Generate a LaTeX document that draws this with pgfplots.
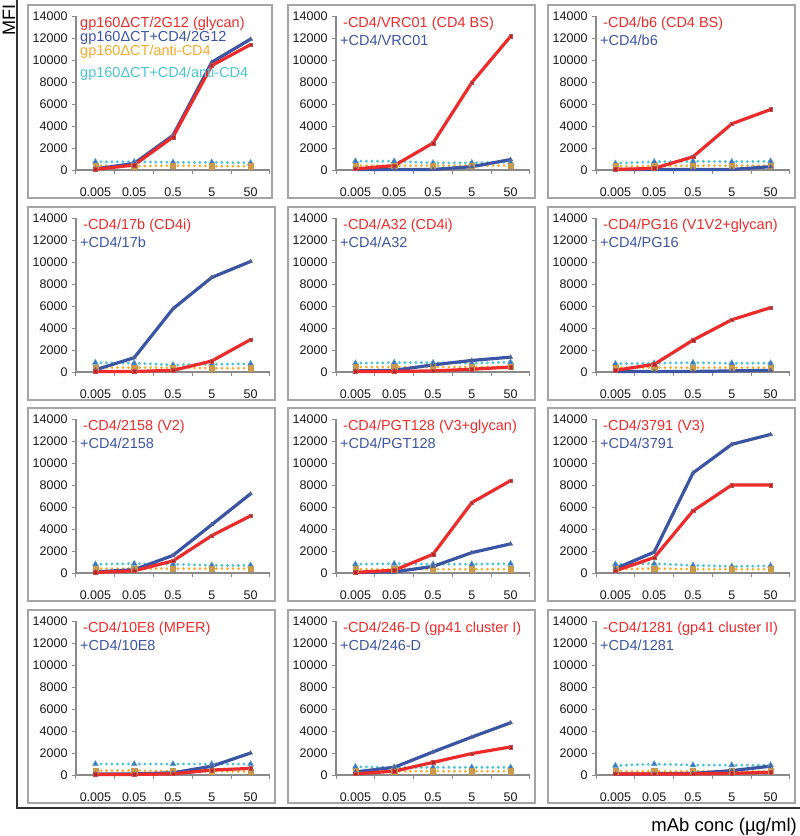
\documentclass[border=0pt]{standalone}
\usepackage{pgfplots}
\pgfplotsset{compat=1.18}
\usepackage{fontspec}
\setmainfont{Liberation Sans}
\definecolor{cred}{HTML}{EE2B2B}
\definecolor{cblue}{HTML}{3C54A4}
\definecolor{corange}{HTML}{F7AA2B}
\definecolor{ccyan}{HTML}{4CC4D2}
\definecolor{axgray}{HTML}{8A8A8A}
\definecolor{boxgray}{HTML}{A5A5A5}
\tikzset{ttl/.style={anchor=west, inner sep=0pt, font=\fontsize{14.5}{16}\selectfont}}
\pgfplotsset{
  panel/.style={
    scale only axis, width=194pt, height=154pt,
    xmin=-0.5, xmax=4.5, ymin=0, ymax=14000,
    axis x line*=bottom, axis y line*=left,
    axis line style={draw=axgray, line width=1.1pt},
    xtick={-0.5,0.5,1.5,2.5,3.5,4.5}, xticklabels={},
    extra x ticks={0,1,2,3,4},
    extra x tick labels={0.005,0.05,0.5,5,50},
    extra x tick style={major tick length=0pt, xticklabel style={yshift=-14pt}},
    ytick={0,2000,...,14000},
    tick align=outside, major tick length=4pt,
    tick style={axgray, line width=1pt},
    scaled y ticks=false,
    /pgf/number format/.cd, fixed, 1000 sep={}, assume math mode=true, /pgfplots/.cd,
    ticklabel style={font=\fontsize{12.5}{14}\selectfont, text=black!90},
    yticklabel style={xshift=-1pt},
    clip=false,
  },
  redl/.style={cred, line width=3.2pt, mark=square*, mark size=1.8pt, mark options={fill=cred!80!black, draw=cred!60!gray, line width=0.5pt}},
  bluel/.style={cblue, line width=3.2pt, mark=triangle*, mark size=2.3pt, mark options={fill=cblue!80!gray, draw=cblue!60!gray, line width=0.5pt}},
  orgl/.style={corange, line width=3pt, line cap=round, dash pattern=on 0pt off 5.5pt, mark=square*, mark size=2.6pt, mark options={solid, fill=corange!65!gray, draw=corange!55!gray, line width=0.5pt}},
  cyl/.style={ccyan, line width=3.2pt, line cap=round, dash pattern=on 0pt off 5.5pt, mark=triangle*, mark size=3.4pt, mark options={solid, fill=ccyan!55!blue!75!gray, draw=ccyan!60!gray, line width=0.5pt}},
}
% #1 X, #2 Y, #3 red title, #4 blue title, #5 red, #6 blue, #7 orange, #8 cyan
\newcommand{\panel}[8]{%
  \draw[boxgray, line width=1.2pt] (#1pt-48pt,-#2pt+165pt) rectangle (#1pt+199pt,-#2pt-28pt);
  \begin{axis}[panel, at={(#1pt,-#2pt)}, anchor=south west]
    \addplot[cyl] coordinates {#8};
    \addplot[orgl] coordinates {#7};
    \addplot[bluel] coordinates {#6};
    \addplot[redl] coordinates {#5};
    \node[ttl, text=cred] at (rel axis cs:0,0.952) [xshift=7pt] {#3};
    \node[ttl, text=cblue] at (rel axis cs:0,0.842) [xshift=4pt] {#4};
  \end{axis}}
\begin{document}
\begin{tikzpicture}
\useasboundingbox (0,0) rectangle (800pt,-836pt);
\draw[line width=2pt, black!80] (17pt,0pt) -- (17pt,-808pt) -- (800pt,-808pt);
\node[rotate=90, anchor=center, inner sep=0pt, font=\fontsize{18}{20}\selectfont] at (9pt,-20pt) {MFI};
\node[anchor=east, inner sep=0pt, font=\fontsize{18.5}{20}\selectfont] at (797pt,-827pt) {mAb conc (µg/ml)};
% panel 1
\draw[boxgray, line width=1.2pt] (28pt,-5pt) rectangle (272pt,-198pt);
\begin{axis}[panel, at={(76pt,-170pt)}, anchor=south west]
  \addplot[cyl] coordinates {(0,750)(1,750)(2,700)(3,700)(4,650)};
  \addplot[orgl] coordinates {(0,400)(1,350)(2,400)(3,350)(4,350)};
  \addplot[bluel] coordinates {(0,100)(1,600)(2,3150)(3,9800)(4,11900)};
  \addplot[redl] coordinates {(0,60)(1,450)(2,3000)(3,9500)(4,11400)};
  \node[ttl, text=cred] at (rel axis cs:0,0.952) [xshift=4pt] {gp160ΔCT/2G12 (glycan)};
  \node[ttl, text=cblue] at (rel axis cs:0,0.862) [xshift=4pt] {gp160ΔCT+CD4/2G12};
  \node[ttl, text=corange] at (rel axis cs:0,0.765) [xshift=4pt] {gp160ΔCT/anti-CD4};
  \node[ttl, text=ccyan] at (rel axis cs:0,0.622) [xshift=4pt] {gp160ΔCT+CD4/anti-CD4};
\end{axis}
\panel{336}{170}{-CD4/VRC01 (CD4 BS)}{+CD4/VRC01}
  {(0,100)(1,400)(2,2450)(3,7950)(4,12150)}
  {(0,50)(1,50)(2,50)(3,300)(4,950)}
  {(0,400)(1,400)(2,400)(3,400)(4,400)}
  {(0,800)(1,800)(2,650)(3,650)(4,700)}
\panel{596}{170}{-CD4/b6 (CD4 BS)}{+CD4/b6}
  {(0,50)(1,150)(2,1200)(3,4200)(4,5500)}
  {(0,50)(1,50)(2,50)(3,50)(4,300)}
  {(0,350)(1,350)(2,400)(3,400)(4,400)}
  {(0,600)(1,750)(2,800)(3,750)(4,800)}
\panel{76}{372}{-CD4/17b (CD4i)}{+CD4/17b}
  {(0,50)(1,50)(2,150)(3,1000)(4,2950)}
  {(0,200)(1,1300)(2,5750)(3,8600)(4,10050)}
  {(0,400)(1,400)(2,400)(3,350)(4,350)}
  {(0,850)(1,800)(2,650)(3,700)(4,750)}
\panel{336}{372}{-CD4/A32 (CD4i)}{+CD4/A32}
  {(0,50)(1,50)(2,100)(3,250)(4,450)}
  {(0,100)(1,150)(2,650)(3,1050)(4,1350)}
  {(0,450)(1,450)(2,450)(3,450)(4,450)}
  {(0,800)(1,850)(2,850)(3,800)(4,900)}
\panel{596}{372}{-CD4/PG16 (V1V2+glycan)}{+CD4/PG16}
  {(0,150)(1,700)(2,2900)(3,4750)(4,5850)}
  {(0,50)(1,50)(2,50)(3,100)(4,150)}
  {(0,400)(1,400)(2,400)(3,400)(4,400)}
  {(0,750)(1,800)(2,850)(3,800)(4,800)}
\panel{76}{573}{-CD4/2158 (V2)}{+CD4/2158}
  {(0,50)(1,200)(2,1100)(3,3400)(4,5200)}
  {(0,100)(1,300)(2,1600)(3,4400)(4,7200)}
  {(0,400)(1,400)(2,400)(3,400)(4,400)}
  {(0,800)(1,850)(2,800)(3,700)(4,700)}
\panel{336}{573}{-CD4/PGT128 (V3+glycan)}{+CD4/PGT128}
  {(0,50)(1,250)(2,1700)(3,6400)(4,8400)}
  {(0,50)(1,100)(2,600)(3,1850)(4,2650)}
  {(0,350)(1,350)(2,350)(3,350)(4,350)}
  {(0,800)(1,850)(2,800)(3,800)(4,850)}
\panel{596}{573}{-CD4/3791 (V3)}{+CD4/3791}
  {(0,200)(1,1400)(2,5650)(3,8000)(4,8000)}
  {(0,400)(1,1900)(2,9100)(3,11700)(4,12600)}
  {(0,350)(1,400)(2,350)(3,350)(4,350)}
  {(0,800)(1,850)(2,700)(3,600)(4,650)}
\panel{76}{775}{-CD4/10E8 (MPER)}{+CD4/10E8}
  {(0,50)(1,50)(2,100)(3,450)(4,600)}
  {(0,100)(1,100)(2,200)(3,800)(4,2000)}
  {(0,400)(1,400)(2,350)(3,350)(4,300)}
  {(0,1000)(1,1000)(2,1000)(3,1000)(4,1000)}
\panel{336}{775}{-CD4/246-D (gp41 cluster I)}{+CD4/246-D}
  {(0,100)(1,350)(2,1150)(3,1950)(4,2550)}
  {(0,280)(1,700)(2,2100)(3,3450)(4,4750)}
  {(0,350)(1,350)(2,350)(3,350)(4,350)}
  {(0,750)(1,700)(2,700)(3,700)(4,700)}
\panel{596}{775}{-CD4/1281 (gp41 cluster II)}{+CD4/1281}
  {(0,100)(1,100)(2,100)(3,150)(4,250)}
  {(0,100)(1,100)(2,150)(3,400)(4,800)}
  {(0,350)(1,350)(2,350)(3,350)(4,350)}
  {(0,850)(1,1000)(2,900)(3,900)(4,900)}
\end{tikzpicture}
\end{document}
